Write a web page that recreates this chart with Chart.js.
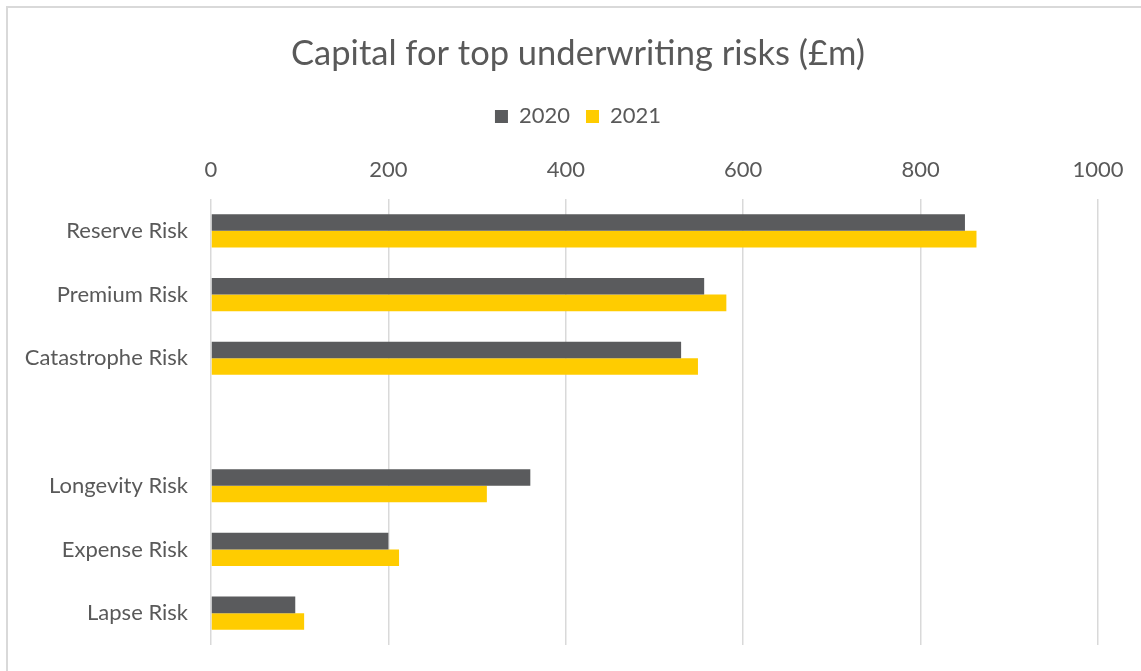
<!DOCTYPE html>
<html>
<head>
<meta charset="utf-8">
<script src="https://cdn.jsdelivr.net/npm/chart.js@4/dist/chart.umd.min.js"></script>
<style>
  body { margin:0; background:#fff; }
  #wrap { position:relative; width:1141px; height:671px; overflow:hidden; }
  #frame { position:absolute; left:6px; top:6px; width:1200px; height:700px; border-left:2px solid #d9d9d9; border-top:2px solid #d9d9d9; }
  canvas { position:absolute; left:0; top:0; }
</style>
</head>
<body>
<div id="wrap">
  <div id="frame"></div>
  <canvas id="myChart" width="1141" height="671"></canvas>
</div>
<script>
const risks = ["Reserve Risk", "Premium Risk", "Catastrophe Risk", "", "Longevity Risk", "Expense Risk", "Lapse Risk"];
const cap2020 = [850, 556, 530, null, 360, 200, 95];
const cap2021 = [863, 581, 549, null, 311, 212, 105];
const xTicks = [0, 200, 400, 600, 800, 1000];

const grey = "#595959";
const fam = "Lato, 'Open Sans', sans-serif";

// plot area in the picture: top 199, bottom 645
function noPad(s){ s.paddingTop = 0; s.paddingBottom = 0; s.paddingLeft = 0; s.paddingRight = 0; }

let ch = document.getElementById("myChart");
new Chart(ch, {
  type: "bar",
  data: {
    labels: risks,
    datasets: [{
      label: "2020",
      backgroundColor: "#5a5b5d",
      data: cap2020
    }, {
      label: "2021",
      backgroundColor: "#ffcc00",
      data: cap2021
    }]
  },
  options: {
    indexAxis: "y",
    responsive: false,
    animation: false,
    layout: { padding: { top: 0, left: 20, right: 5, bottom: 26 } },
    datasets: { bar: { barPercentage: 1, categoryPercentage: 0.52 } },
    plugins: {
      title: {
        display: true,
        text: "Capital for top underwriting risks (£m)",
        color: grey,
        font: { family: fam, size: 34.5, weight: "normal" },
        padding: { top: 33, bottom: 15 }
      },
      legend: {
        labels: {
          color: grey,
          font: { family: fam, size: 22 },
          boxWidth: 13,
          boxHeight: 13,
          padding: 16
        }
      },
      tooltip: { enabled: false }
    },
    scales: {
      x: {
        position: "top",
        min: 0,
        max: 1000,
        afterBuildTicks: function(s){ s.ticks = xTicks.map(v => ({ value: v })); },
        afterFit: function(s){
          noPad(s);
          let used = (s.chart.titleBlock ? s.chart.titleBlock.height : 0) + (s.chart.legend ? s.chart.legend.height : 0);
          s.height = 199 - used;
        },
        grid: { color: "#d9d9d9", lineWidth: 1.5, drawTicks: false },
        border: { display: false },
        ticks: { color: grey, font: { family: fam, size: 22 }, padding: 16,
                 callback: function(v){ return String(v); } }
      },
      y: {
        afterFit: function(s){ noPad(s); s.width = 191; },
        grid: { display: false, drawTicks: false },
        border: { display: false },
        ticks: { color: grey, font: { family: fam, size: 22 }, padding: 23 }
      },
      yRight: {
        type: "linear",
        position: "right",
        afterFit: function(s){ noPad(s); s.width = 38; },
        grid: { display: false, drawTicks: false },
        border: { display: false },
        ticks: { display: false }
      }
    }
  }
});
</script>
</body>
</html>
